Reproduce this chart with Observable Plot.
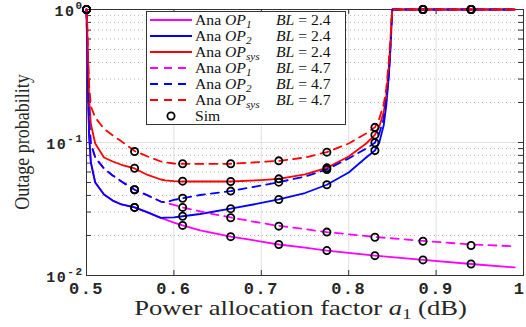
<!DOCTYPE html>
<html><head><meta charset="utf-8">
<script src="https://cdn.jsdelivr.net/npm/d3@7"></script>
<script src="https://cdn.jsdelivr.net/npm/@observablehq/plot@0.6"></script>
<style>body{margin:0;background:#fff;} #chart svg{display:block;}</style>
</head><body><div id="chart"></div>
<script>
// ---- data ----
const a1Op1 = [0.5,0.501,0.502,0.503,0.505,0.51,0.52,0.53,0.54,0.555,0.57,0.585,0.59,0.6,0.61,0.63,0.665,0.7,0.72,0.75,0.775,0.83,0.885,0.94,0.99];
const op1Bl24 = [1,0.414,0.207,0.113,0.0708,0.0500,0.0406,0.0366,0.0342,0.0325,0.0298,0.0271,0.0264,0.0250,0.0238,0.0218,0.0196,0.0180,0.0171,0.0162,0.0154,0.0141,0.0131,0.0122,0.0115];
const op1Bl47 = [1,0.492,0.226,0.146,0.0983,0.0771,0.0638,0.0565,0.0509,0.0441,0.0400,0.0360,0.0354,0.0339,0.0325,0.0303,0.0273,0.0248,0.0236,0.0223,0.0212,0.0195,0.0182,0.0171,0.0166];

const a1Op2 = [0.5,0.501,0.502,0.503,0.505,0.51,0.52,0.53,0.54,0.555,0.57,0.585,0.59,0.6,0.61,0.63,0.665,0.7,0.72,0.75,0.775,0.8,0.82,0.83,0.835,0.84,0.843,0.846,0.848,0.8495,0.85,0.9,0.95,0.99];
const op2Bl24 = [1,0.414,0.207,0.113,0.0708,0.0500,0.0406,0.0366,0.0342,0.0325,0.0298,0.0271,0.0272,0.0274,0.0279,0.0290,0.0318,0.0351,0.0373,0.0417,0.0481,0.0595,0.0771,0.0871,0.100,0.134,0.190,0.319,0.536,0.901,1,1,1,1];
const opSysBl24 = [1,0.657,0.371,0.213,0.137,0.0983,0.0771,0.0720,0.0680,0.0638,0.0570,0.0527,0.0520,0.0512,0.0509,0.0509,0.0509,0.0522,0.0533,0.0575,0.0645,0.0785,0.0983,0.114,0.132,0.168,0.226,0.379,0.605,0.949,1,1,1,1];
const op2Bl47 = [1,0.492,0.226,0.146,0.0983,0.0771,0.0638,0.0565,0.0509,0.0441,0.0400,0.0360,0.0354,0.0370,0.0381,0.0403,0.0431,0.0475,0.0503,0.0555,0.0627,0.0758,0.0901,0.0995,0.117,0.151,0.207,0.336,0.565,0.917,1,1,1,1];
const opSysBl47 = [1,0.742,0.401,0.271,0.187,0.154,0.127,0.113,0.102,0.0863,0.0785,0.0720,0.0708,0.0695,0.0692,0.0690,0.0692,0.0714,0.0728,0.0771,0.0846,0.0983,0.117,0.130,0.151,0.193,0.255,0.414,0.637,0.949,1,1,1,1];

const simA1 = [0.5,0.555,0.61,0.665,0.72,0.775,0.83,0.885,0.94];
const simOp1Bl24 = [1,0.0325,0.0238,0.0196,0.0171,0.0154,0.0141,0.0131,0.0122];
const simOp2Bl24 = [1,0.0325,0.0279,0.0318,0.0373,0.0481,0.0871,1,1];
const simSysBl24 = [1,0.0640,0.0512,0.0509,0.0533,0.0645,0.114,1,1];
const simOp1Bl47 = [1,0.0441,0.0325,0.0272,0.0235,0.0212,0.0194,0.0181,0.0168];
const simOp2Bl47 = [1,0.0441,0.0381,0.0431,0.0503,0.0627,0.0995,1,1];
const simSysBl47 = [1,0.0856,0.0692,0.0692,0.0728,0.0846,0.130,1,1];

const xTicks = [0.5,0.6,0.7,0.8,0.9,1];
const xTickLabels = ["0.5","0.6","0.7","0.8","0.9","1"];
const yTicks = [0.01,0.1,1];
const yTickExponents = ["-2","-1","0"];
const yMinor = [0.02,0.03,0.04,0.05,0.06,0.07,0.08,0.09,0.2,0.3,0.4,0.5,0.6,0.7,0.8,0.9];

const legendNames = [
  ["OP","1","BL","2.4"],["OP","2","BL","2.4"],["OP","sys","BL","2.4"],
  ["OP","1","BL","4.7"],["OP","2","BL","4.7"],["OP","sys","BL","4.7"]
];
const simLabel = "Sim";
const xLabelParts = ["Power allocation factor ", "a", "1", " (dB)"];
const yLabel = "Outage probability";

// ---- build ----
const W = 526, H = 327, mL = 86, mR = 3, mT = 9, mB = 52;
const pw = W - mL - mR, ph = H - mT - mB;
const MAG = "#ff00ff", BLU = "#0000ff", RED = "#ff0000", DASH = "8,6";
const series = [
  {x: a1Op1, y: op1Bl24, sim: simOp1Bl24, color: MAG, dash: null},
  {x: a1Op2, y: op2Bl24, sim: simOp2Bl24, color: BLU, dash: null},
  {x: a1Op2, y: opSysBl24, sim: simSysBl24, color: RED, dash: null},
  {x: a1Op1, y: op1Bl47, sim: simOp1Bl47, color: MAG, dash: DASH},
  {x: a1Op2, y: op2Bl47, sim: simOp2Bl47, color: BLU, dash: DASH},
  {x: a1Op2, y: opSysBl47, sim: simSysBl47, color: RED, dash: DASH}
];
const rows = (xs, ys) => xs.map((x, i) => ({a1: x, p: ys[i]}));
const axisColor = "#333333";
const allY = yTicks.concat(yMinor);

const plot = Plot.plot({
  width: W, height: H,
  marginLeft: mL, marginRight: mR, marginTop: mT, marginBottom: mB,
  x: {domain: [0.5, 1]},
  y: {type: "log", domain: [0.01, 1]},
  style: {background: "white"},
  marks: [
    Plot.ruleX(xTicks, {x: d => d, stroke: "#e0e0e0", strokeWidth: 1}),
    Plot.ruleY(yMinor, {y: d => d, stroke: "#b5b5b5", strokeDasharray: "1,3", strokeWidth: 1}),
    Plot.ruleY(yTicks, {y: d => d, stroke: "#e0e0e0", strokeWidth: 1}),
    Plot.frame({stroke: axisColor, strokeWidth: 1}),
    Plot.tickY(allY, {y: d => d, insetRight: pw - 5, stroke: axisColor}),
    Plot.tickY(allY, {y: d => d, insetLeft: pw - 5, stroke: axisColor}),
    Plot.tickX(xTicks, {x: d => d, insetTop: ph - 5, stroke: axisColor}),
    Plot.tickX(xTicks, {x: d => d, insetBottom: ph - 5, stroke: axisColor}),
    ...series.map(s => Plot.line(rows(s.x, s.y), {x: "a1", y: "p", stroke: s.color, strokeWidth: 1.8, strokeDasharray: s.dash})),
    ...series.map(s => Plot.dot(rows(simA1, s.sim), {x: "a1", y: "p", r: 3.6, stroke: "black", strokeWidth: 1.8, fill: "none"})),
    Plot.axisX(xTicks, {tickSize: 0, tickPadding: 6, label: null,
      tickFormat: d => xTickLabels[xTicks.indexOf(d)],
      fontSize: 17, fontFamily: "Liberation Mono", fontWeight: "bold", fill: "#262626"}),
    Plot.axisY(yTicks, {tickSize: 0, tickPadding: 3, label: null,
      tickFormat: d => "10^" + yTickExponents[yTicks.indexOf(d)],
      fontSize: 15, fontFamily: "Liberation Mono", fontWeight: "bold", fill: "#262626"})
  ]
});

const svg = d3.select(plot);
// superscripts on y tick labels
svg.selectAll('g[aria-label="y-axis tick label"] text').each(function() {
  const t = d3.select(this);
  const parts = t.text().split("^");
  t.text(null).attr("y", "0.4em").attr("letter-spacing", 1.5);
  t.append("tspan").text(parts[0]);
  t.append("tspan").attr("dy", "-0.6em").attr("font-size", "11px").text(parts[1]);
});
// x tick labels: wider spacing, keep last one inside
const xt = svg.selectAll('g[aria-label="x-axis tick label"] text').attr("letter-spacing", 1.5);
xt.filter((d, i, n) => i === n.length - 1).attr("dx", -4);

// axis labels
const serif = "Liberation Serif, DejaVu Serif, serif";
const xl = svg.append("text")
  .attr("transform", `translate(${mL + pw / 2 - 4},315) scale(1.33,1)`)
  .attr("text-anchor", "middle").attr("font-family", serif).attr("font-size", 20).attr("fill", "#262626");
xl.append("tspan").text(xLabelParts[0]);
xl.append("tspan").attr("font-style", "italic").text(xLabelParts[1]);
xl.append("tspan").attr("font-size", 14).attr("dy", 4).text(xLabelParts[2]);
xl.append("tspan").attr("dy", -4).text(xLabelParts[3]);

svg.append("text").attr("transform", `translate(29,${mT + ph / 2}) rotate(-90) scale(1,1.2)`)
  .attr("text-anchor", "middle").attr("font-family", serif).attr("font-size", 18).attr("fill", "#262626")
  .text(yLabel);

// legend
const lg = svg.append("g").attr("text-anchor", "start");
lg.append("rect").attr("x", 146.5).attr("y", 11.5).attr("width", 199).attr("height", 113)
  .attr("fill", "white").attr("stroke", axisColor).attr("stroke-width", 1);
const rowY = i => 20 + i * 16;
legendNames.forEach((n, i) => {
  const s = series[i];
  lg.append("line").attr("x1", 150).attr("x2", 192).attr("y1", rowY(i)).attr("y2", rowY(i))
    .attr("stroke", s.color).attr("stroke-width", 1.8).attr("stroke-dasharray", s.dash);
  const t = lg.append("text").attr("transform", `translate(195,${rowY(i) + 5}) scale(1.12,1)`)
    .attr("text-anchor", "start").attr("font-family", serif).attr("font-size", 14).attr("fill", "#111");
  t.append("tspan").text("Ana ");
  t.append("tspan").attr("font-style", "italic").text(n[0]);
  t.append("tspan").attr("font-style", "italic").attr("font-size", 10).attr("dy", 3).text(n[1]);
  const t2 = lg.append("text").attr("transform", `translate(276,${rowY(i) + 5}) scale(1.12,1)`)
    .attr("text-anchor", "start").attr("font-family", serif).attr("font-size", 14).attr("fill", "#111");
  t2.append("tspan").attr("font-style", "italic").text(n[2]);
  t2.append("tspan").text(" = " + n[3]);
});
lg.append("circle").attr("cx", 171).attr("cy", rowY(6)).attr("r", 3.6)
  .attr("fill", "none").attr("stroke", "black").attr("stroke-width", 1.8);
lg.append("text").attr("transform", `translate(195,${rowY(6) + 5}) scale(1.12,1)`)
  .attr("text-anchor", "start").attr("font-family", serif)
  .attr("font-size", 14).attr("fill", "#111").text(simLabel);

document.getElementById("chart").appendChild(plot);
</script>
</body></html>
